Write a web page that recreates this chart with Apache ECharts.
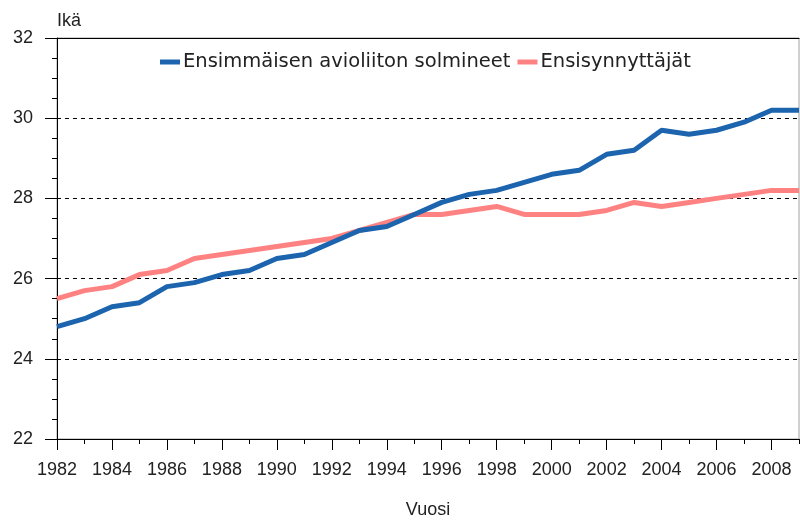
<!DOCTYPE html>
<html>
<head>
<meta charset="utf-8">
<script src="https://cdn.jsdelivr.net/npm/echarts@6/dist/echarts.min.js"></script>
<style>html,body{margin:0;padding:0;background:#fff}#c{width:800px;height:521px}</style>
</head>
<body>
<div id="c"></div>
<script>
var years = [1982,1983,1984,1985,1986,1987,1988,1989,1990,1991,1992,1993,1994,1995,1996,1997,1998,1999,2000,2001,2002,2003,2004,2005,2006,2007,2008,2009];
var marriage = [24.8,25.0,25.3,25.4,25.8,25.9,26.1,26.2,26.5,26.6,26.9,27.2,27.3,27.6,27.9,28.1,28.2,28.4,28.6,28.7,29.1,29.2,29.7,29.6,29.7,29.9,30.2,30.2];
var firstBirth = [25.5,25.7,25.8,26.1,26.2,26.5,26.6,26.7,26.8,26.9,27.0,27.2,27.4,27.6,27.6,27.7,27.8,27.6,27.6,27.6,27.7,27.9,27.8,27.9,28.0,28.1,28.2,28.2];
var seriesNames = ['Ensimmäisen avioliiton solmineet','Ensisynnyttäjät'];
var yTicks = [22,24,26,28,30,32];
var cats = years.map(String);
var FONT = 'Liberation Sans';
var chart = echarts.init(document.getElementById('c'), null, {renderer:'canvas'});
chart.setOption({
  animation:false,
  textStyle:{fontFamily:FONT},
  grid:{left:57,right:1,top:38,bottom:82,outerBoundsMode:'none',containLabel:false,show:true,borderColor:'#a0a0a0',borderWidth:1,backgroundColor:'transparent'},
  legend:{
    top:52,left:160,padding:0,
    itemWidth:20,itemHeight:5,itemGap:7,
    icon:'rect',
    textStyle:{fontSize:19.5,color:'#222',fontFamily:'DejaVu Sans',padding:[0,0,0,-2]},
    data:seriesNames
  },
  xAxis:[{
    type:'category',data:cats,boundaryGap:false,position:'bottom',
    name:'Vuosi',nameLocation:'middle',nameGap:62,
    nameTextStyle:{fontSize:18,color:'#222',fontFamily:FONT},
    axisLine:{lineStyle:{color:'#000',width:1}},
    axisTick:{show:true,length:11,interval:1,lineStyle:{color:'#000'}},
    axisLabel:{interval:1,fontSize:18,color:'#222',margin:22,fontFamily:FONT},
    splitLine:{show:false}
  },{
    type:'category',data:cats,boundaryGap:false,position:'bottom',
    axisLine:{show:false},
    axisTick:{show:true,length:5,interval:0,lineStyle:{color:'#000'}},
    axisLabel:{show:false},splitLine:{show:false}
  },{
    type:'category',data:cats,boundaryGap:false,position:'top',
    axisLine:{show:true,lineStyle:{color:'#000',width:1}},
    axisTick:{show:false},axisLabel:{show:false},splitLine:{show:false}
  }],
  yAxis:{
    type:'value',min:yTicks[0],max:yTicks[yTicks.length-1],interval:2,
    name:'Ikä',nameLocation:'end',nameGap:8,
    nameTextStyle:{fontSize:18,color:'#222',align:'left',verticalAlign:'bottom',fontFamily:FONT},
    axisLine:{show:true,lineStyle:{color:'#000',width:1}},
    axisTick:{show:true,length:12,lineStyle:{color:'#000'}},
    minorTick:{show:true,splitNumber:4,length:5,lineStyle:{color:'#000'}},
    axisLabel:{fontSize:18,color:'#222',margin:24,fontFamily:FONT},
    splitLine:{show:true,lineStyle:{color:'#000',type:[4,4],width:1}}
  },
  series:[{
    name:seriesNames[0],type:'line',data:marriage,xAxisIndex:0,
    symbol:'none',lineStyle:{color:'#1c64ae',width:5},itemStyle:{color:'#1c64ae'},z:3
  },{
    name:seriesNames[1],type:'line',data:firstBirth,xAxisIndex:0,
    symbol:'none',lineStyle:{color:'#ff8282',width:5},itemStyle:{color:'#ff8282'},z:2
  }]
});
</script>
</body>
</html>
